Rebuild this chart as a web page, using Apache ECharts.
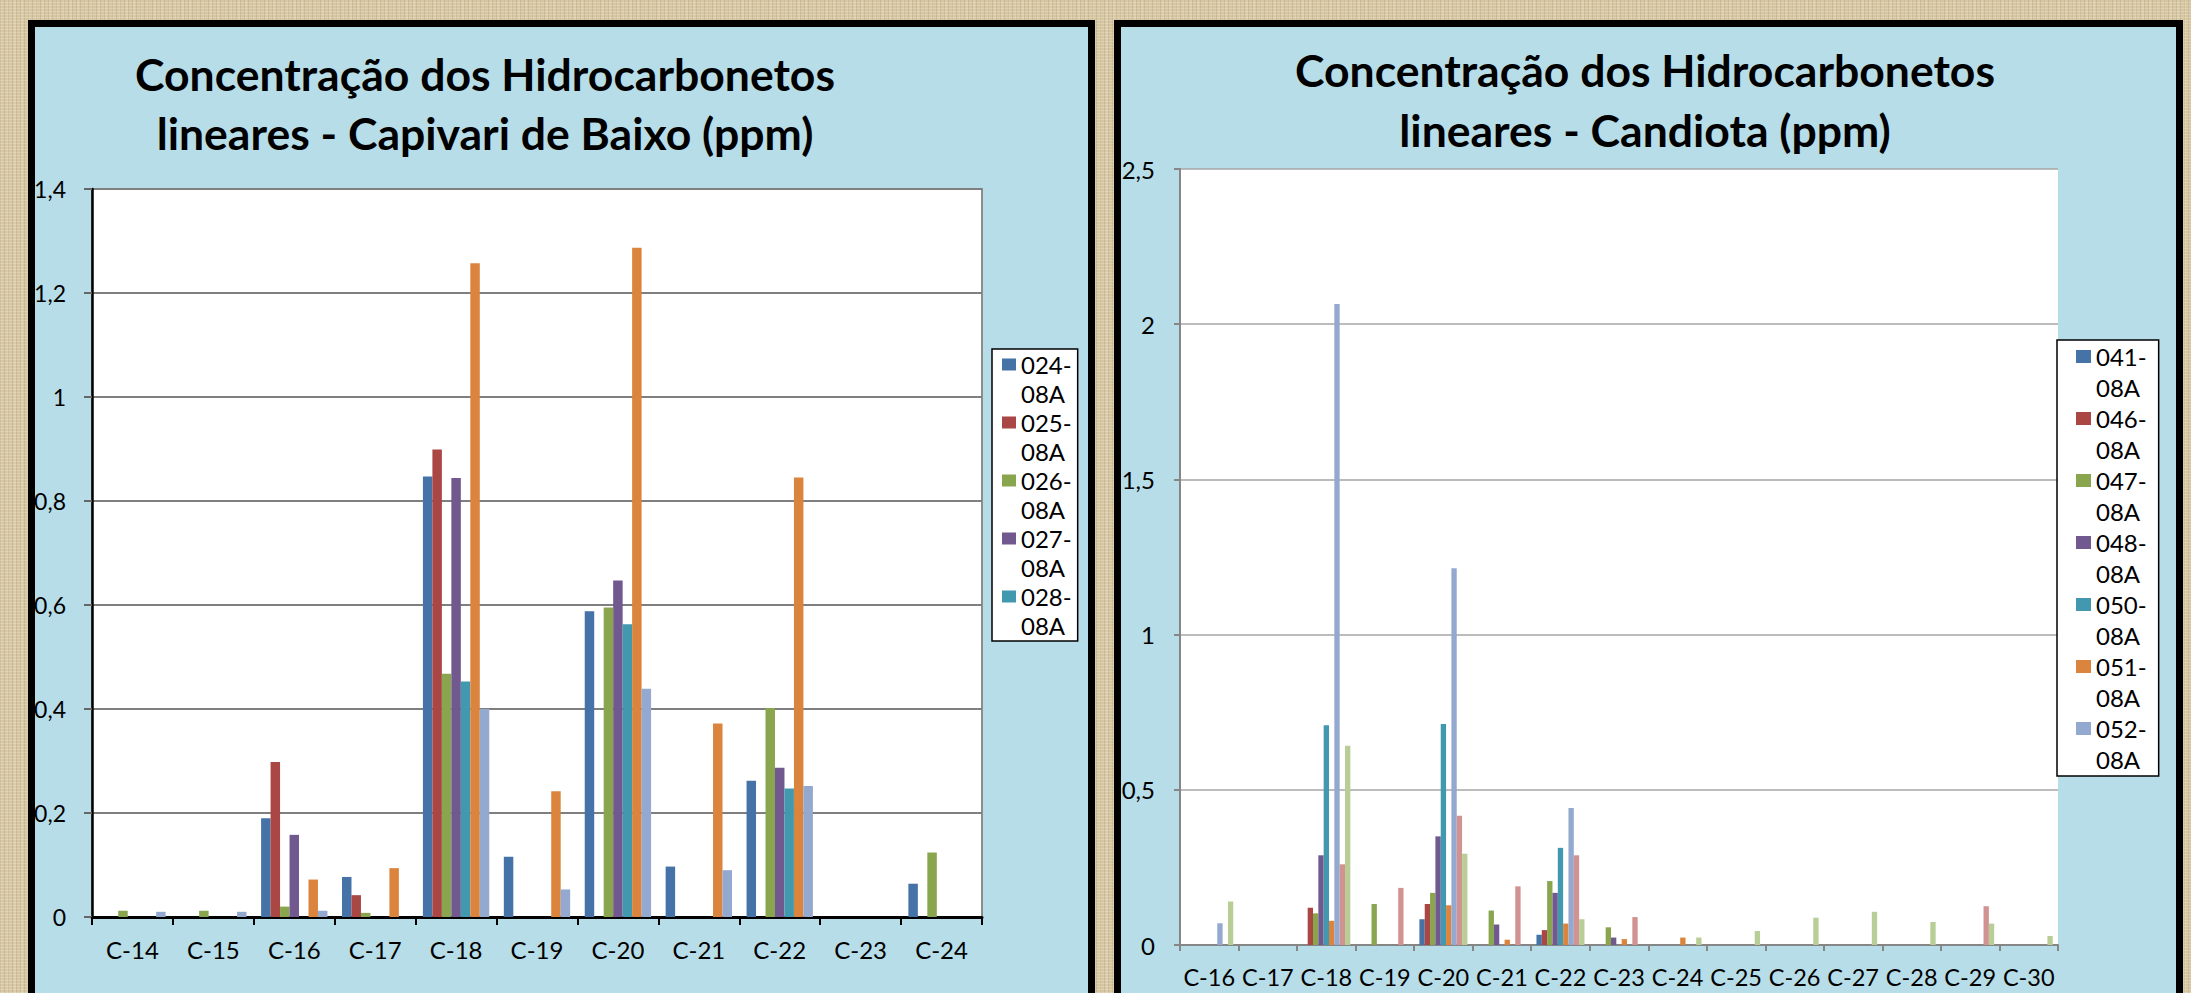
<!DOCTYPE html>
<html>
<head>
<meta charset="utf-8">
<script src="https://cdn.jsdelivr.net/npm/echarts@6/dist/echarts.min.js"></script>
<style>
html,body{margin:0;padding:0;width:2191px;height:993px;overflow:hidden;}
body{
  background-color:#d6c6a2;
  background-image:
    repeating-linear-gradient(0deg, rgba(255,250,235,0.22) 0px, rgba(255,250,235,0.22) 1px, rgba(0,0,0,0) 1px, rgba(0,0,0,0) 3px),
    repeating-linear-gradient(90deg, rgba(110,90,50,0.14) 0px, rgba(110,90,50,0.14) 1px, rgba(0,0,0,0) 1px, rgba(0,0,0,0) 4px),
    repeating-linear-gradient(90deg, rgba(255,255,240,0.12) 0px, rgba(255,255,240,0.12) 2px, rgba(0,0,0,0) 2px, rgba(0,0,0,0) 7px);
}
.panel{position:absolute;box-sizing:border-box;background:#b7dde8;border:7px solid #000;}
#chart{position:absolute;left:0;top:0;width:2191px;height:993px;}
</style>
</head>
<body>
<div class="panel" style="left:28px;top:20px;width:1067px;height:1000px;"></div>
<div class="panel" style="left:1114px;top:20px;width:1069px;height:1000px;"></div>
<div id="chart"></div>
<script>
// ---------- Left chart: Capivari de Baixo ----------
const leftTitle = 'Concentração dos Hidrocarbonetos\nlineares - Capivari de Baixo (ppm)';
const leftCategories = ['C-14','C-15','C-16','C-17','C-18','C-19','C-20','C-21','C-22','C-23','C-24'];
const leftNames = ['024-08A','025-08A','026-08A','027-08A','028-08A','029-08A','030-08A'];
const leftLegendNames = ['024-08A','025-08A','026-08A','027-08A','028-08A'];
const left024 = [0, 0, 0.19, 0.077, 0.847, 0.116, 0.588, 0.097, 0.262, 0, 0.064];
const left025 = [0, 0, 0.298, 0.042, 0.899, 0, 0, 0, 0, 0, 0];
const left026 = [0.012, 0.012, 0.02, 0.008, 0.468, 0, 0.595, 0, 0.402, 0, 0.124];
const left027 = [0, 0, 0.158, 0, 0.844, 0, 0.647, 0, 0.287, 0, 0];
const left028 = [0, 0, 0, 0, 0.453, 0, 0.563, 0, 0.247, 0, 0];
const left029 = [0, 0, 0.072, 0.094, 1.257, 0.242, 1.287, 0.372, 0.845, 0, 0];
const left030 = [0.01, 0.01, 0.012, 0, 0.40, 0.053, 0.439, 0.09, 0.252, 0, 0];
const leftValues = [left024, left025, left026, left027, left028, left029, left030];
const leftYTicks = {min: 0, max: 1.4, interval: 0.2};

// ---------- Right chart: Candiota ----------
const rightTitle = 'Concentração dos Hidrocarbonetos\nlineares - Candiota (ppm)';
const rightCategories = ['C-16','C-17','C-18','C-19','C-20','C-21','C-22','C-23','C-24','C-25','C-26','C-27','C-28','C-29','C-30'];
const rightNames = ['041-08A','046-08A','047-08A','048-08A','050-08A','051-08A','052-08A','053-08A','054-08A'];
const rightLegendNames = ['041-08A','046-08A','047-08A','048-08A','050-08A','051-08A','052-08A'];
const right041 = [0, 0, 0, 0, 0.083, 0, 0.033, 0, 0, 0, 0, 0, 0, 0, 0];
const right046 = [0, 0, 0.12, 0, 0.132, 0, 0.048, 0, 0, 0, 0, 0, 0, 0, 0];
const right047 = [0, 0, 0.102, 0.132, 0.168, 0.111, 0.206, 0.057, 0, 0, 0, 0, 0, 0, 0];
const right048 = [0, 0, 0.289, 0, 0.35, 0.066, 0.168, 0.024, 0, 0, 0, 0, 0, 0, 0];
const right050 = [0, 0, 0.708, 0, 0.712, 0, 0.313, 0, 0, 0, 0, 0, 0, 0, 0];
const right051 = [0, 0, 0.078, 0, 0.128, 0.017, 0.069, 0.019, 0.024, 0, 0, 0, 0, 0, 0];
const right052 = [0.07, 0, 2.065, 0, 1.214, 0, 0.441, 0, 0, 0, 0, 0, 0, 0, 0];
const right053 = [0, 0, 0.26, 0.184, 0.416, 0.189, 0.289, 0.09, 0, 0, 0, 0, 0, 0.125, 0];
const right054 = [0.14, 0, 0.642, 0, 0.294, 0, 0.083, 0, 0.024, 0.045, 0.088, 0.107, 0.074, 0.069, 0.029];
const rightValues = [right041, right046, right047, right048, right050, right051, right052, right053, right054];
const rightYTicks = {min: 0, max: 2.5, interval: 0.5};

const palette = ['#4572A7','#AA4643','#89A54E','#71588F','#4198AF','#DB843D','#93A9CF','#D19392','#B9CD96'];
const FONT = 'Lato, "Open Sans", "Noto Sans", sans-serif';

const fmtNum = v => String(Number(v.toFixed(2))).replace('.', ',');
const legendFmt = name => name.replace('-', '-\n');

function legendIcon(w, h, lineH, boxH){
  const y0 = (lineH - boxH) / 2;
  return 'path://M0,0h0.01v0.01h-0.01z M0,' + y0 + 'h' + w + 'v' + boxH + 'h-' + w + 'z M0,' + (2*lineH - 0.01) + 'h0.01v0.01h-0.01z';
}

const chart = echarts.init(document.getElementById('chart'), null, {renderer: 'svg', width: 2191, height: 993});

const series = [];
leftNames.forEach((n, i) => series.push({
  name: n, type: 'bar', xAxisIndex: 0, yAxisIndex: 0, data: leftValues[i],
  barGap: '0%', barCategoryGap: '18%', itemStyle: {color: palette[i]}, animation: false
}));
rightNames.forEach((n, i) => series.push({
  name: n, type: 'bar', xAxisIndex: 1, yAxisIndex: 1, data: rightValues[i],
  barGap: '0%', barCategoryGap: '18%', itemStyle: {color: palette[i]}, animation: false
}));

chart.setOption({
  animation: false,
  backgroundColor: 'transparent',
  textStyle: {fontFamily: FONT},
  graphic: [
    {type: 'text', x: 485, y: 44, style: {text: leftTitle, align: 'center', verticalAlign: 'top',
      fontFamily: FONT, fontWeight: 'bold', fontSize: 44.5, lineHeight: 59, fill: '#000'}},
    {type: 'text', x: 1645, y: 39, style: {text: rightTitle, align: 'center', verticalAlign: 'top',
      fontFamily: FONT, fontWeight: 'bold', fontSize: 44.5, lineHeight: 60, fill: '#000'}}
  ],
  grid: [
    {left: 92, top: 189, width: 890, height: 728, show: true, backgroundColor: '#ffffff',
      borderColor: '#8c8c8c', borderWidth: 2, containLabel: false},
    {left: 1180, top: 169, width: 878, height: 776, show: true, backgroundColor: '#ffffff',
      borderWidth: 0, containLabel: false}
  ],
  legend: [
    {data: leftLegendNames, orient: 'vertical', left: 992, top: 349,
      padding: [1, 6, 1, 10], itemGap: 0, itemWidth: 14, itemHeight: 58,
      icon: legendIcon(14, 58, 29, 12), selectedMode: false,
      backgroundColor: '#ffffff', borderColor: '#000', borderWidth: 1.5, borderRadius: 0,
      formatter: legendFmt,
      textStyle: {fontFamily: FONT, fontSize: 24, lineHeight: 29, color: '#000'}},
    {data: rightLegendNames, orient: 'vertical', left: 2057, top: 340,
      padding: [1, 12, 1, 19], itemGap: 0, itemWidth: 15, itemHeight: 62,
      icon: legendIcon(15, 62, 31, 13), selectedMode: false,
      backgroundColor: '#ffffff', borderColor: '#000', borderWidth: 1.5, borderRadius: 0,
      formatter: legendFmt,
      textStyle: {fontFamily: FONT, fontSize: 24, lineHeight: 31, color: '#000'}}
  ],
  xAxis: [
    {type: 'category', gridIndex: 0, data: leftCategories, boundaryGap: true,
      axisLine: {show: true, lineStyle: {color: '#000', width: 3}},
      axisTick: {show: true, length: 8, lineStyle: {color: '#000', width: 2}},
      axisLabel: {margin: 20, fontSize: 24, color: '#000', fontFamily: FONT, interval: 0},
      splitLine: {show: false}},
    {type: 'category', gridIndex: 1, data: rightCategories, boundaryGap: true,
      axisLine: {show: true, lineStyle: {color: '#868686', width: 2}},
      axisTick: {show: true, length: 6, lineStyle: {color: '#868686', width: 2}},
      axisLabel: {margin: 20, fontSize: 23.5, color: '#000', fontFamily: FONT, interval: 0},
      splitLine: {show: false}}
  ],
  yAxis: [
    {type: 'value', gridIndex: 0, min: leftYTicks.min, max: leftYTicks.max, interval: leftYTicks.interval,
      axisLine: {show: true, lineStyle: {color: '#000', width: 2.5}},
      axisTick: {show: true, length: 8, lineStyle: {color: '#666', width: 2}},
      axisLabel: {margin: 26, fontSize: 23, color: '#000', fontFamily: FONT, formatter: fmtNum},
      splitLine: {show: true, lineStyle: {color: '#7f7f7f', width: 2}}},
    {type: 'value', gridIndex: 1, min: rightYTicks.min, max: rightYTicks.max, interval: rightYTicks.interval,
      axisLine: {show: true, lineStyle: {color: '#868686', width: 2}},
      axisTick: {show: true, length: 6, lineStyle: {color: '#868686', width: 2}},
      axisLabel: {margin: 25, fontSize: 24, color: '#000', fontFamily: FONT, formatter: fmtNum},
      splitLine: {show: true, lineStyle: {color: '#a6a6a6', width: 1.5}}}
  ],
  series: series
});
</script>
</body>
</html>
